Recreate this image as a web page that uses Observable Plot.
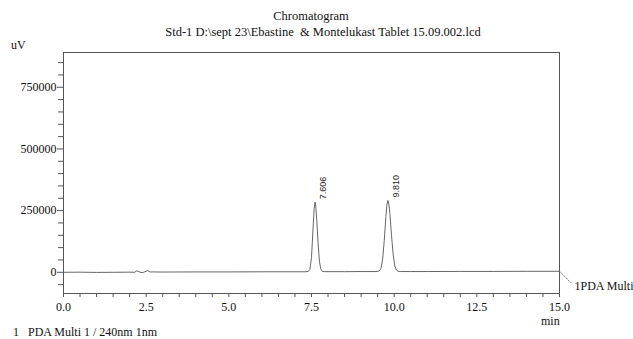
<!DOCTYPE html>
<html>
<head>
<meta charset="utf-8">
<script src="https://cdn.jsdelivr.net/npm/d3@7"></script>
<script src="https://cdn.jsdelivr.net/npm/@observablehq/plot@0.6"></script>
<style>
  html, body { margin: 0; padding: 0; background: #ffffff; }
  #wrap { position: relative; width: 633px; height: 339px; font-family: "Liberation Serif", serif; color: #111; }
  #wrap svg { position: absolute; left: 0; top: 0; }
  .t { position: absolute; white-space: pre; font-size: 12px; line-height: 1; }
</style>
</head>
<body>
<div id="wrap">
  <div class="t" id="title" style="left:311px; top:10px; transform:translateX(-50%); font-size:12.5px;">Chromatogram</div>
  <div class="t" id="subtitle" style="left:323px; top:26px; transform:translateX(-50%); font-size:12.5px;">Std-1 D:\sept 23\Ebastine  &amp; Montelukast Tablet 15.09.002.lcd</div>
  <div class="t" id="ylab" style="left:11px; top:39px;">uV</div>
  <div class="t" id="xlab" style="left:541px; top:315px;">min</div>
  <div class="t" id="footer" style="left:13px; top:326px;">1   PDA Multi 1 / 240nm 1nm</div>
</div>
<script>
// ---- data ----
const times = [
  0.0, 0.5, 1.0, 1.5, 2.0, 2.15, 2.22, 2.30, 2.38, 2.45, 2.55, 2.62, 2.70, 3.0, 4.0, 5.0, 6.0, 7.0, 7.30,
  7.40, 7.45, 7.50, 7.55, 7.58, 7.606, 7.63, 7.66, 7.70, 7.74, 7.78, 7.82, 7.90,
  8.5, 9.0, 9.45, 9.55, 9.60, 9.65, 9.70, 9.75, 9.78, 9.81, 9.84, 9.87, 9.92, 9.97, 10.02, 10.07, 10.12, 10.20,
  10.5, 11.0, 12.0, 13.0, 14.0, 15.0
];
const signal = [
  0, 500, -500, 0, 500, 0, 6000, 1000, -1500, 1500, 7000, 1000, 1500, 1000, 1500, 1500, 2000, 2000, 2000,
  3500, 11000, 60000, 184000, 258000, 284000, 268000, 211000, 116000, 45000, 14000, 4500, 2500,
  2500, 3000, 3000, 5000, 15500, 51000, 128000, 226000, 273000, 291000, 277000, 239000, 149000, 71000, 26000, 9000, 4000, 3000,
  3000, 3000, 3500, 3500, 4000, 4000
];
const peakTimes = [7.606, 9.810];
const peakHeights = [284000, 291000];
const peakLabels = ["7.606", "9.810"];
const xMajorTicks = [0, 2.5, 5, 7.5, 10, 12.5, 15];
const xMinorTicks = [0.5,1,1.5,2,3,3.5,4,4.5,5.5,6,6.5,7,8,8.5,9,9.5,10.5,11,11.5,12,13,13.5,14,14.5];
const yMajorTicks = [0, 250000, 500000, 750000];
const yMinorTicks = [-50000, 50000, 100000, 150000, 200000, 300000, 350000, 400000, 450000, 550000, 600000, 650000, 700000, 800000, 850000];
const channelLabel = "1PDA Multi";

const data = times.map((t, i) => ({t, v: signal[i]}));
const peaks = peakTimes.map((t, i) => ({t, v: peakHeights[i], label: peakLabels[i]}));
const endPoint = [{t: times[times.length - 1], v: signal[signal.length - 1], label: channelLabel}];

const leader = {
  draw(context, l) { context.moveTo(0, 0); context.lineTo(0, -l); }
};

const chart = Plot.plot({
  width: 633,
  height: 339,
  marginLeft: 63,
  marginRight: 74,
  marginTop: 52,
  marginBottom: 46,
  x: {domain: [0, 15]},
  y: {domain: [-86000, 891000]},
  style: {fontFamily: "Liberation Serif", fontSize: "12px", background: "transparent", color: "#111"},
  marks: [
    Plot.frame({stroke: "#555", strokeWidth: 1}),
    Plot.axisX({ticks: xMajorTicks, tickSize: 4, tickPadding: 5, tickFormat: d => d.toFixed(1), label: null, stroke: "#555"}),
    Plot.axisX({ticks: xMinorTicks, tickSize: 4, tickFormat: () => "", label: null, stroke: "#555"}),
    Plot.axisY({ticks: yMajorTicks, tickSize: 6, tickPadding: 1, tickFormat: d => String(d), label: null, stroke: "#555"}),
    Plot.axisY({ticks: yMinorTicks, tickSize: 5, tickFormat: () => "", label: null, stroke: "#555"}),
    Plot.line(data, {x: "t", y: "v", stroke: "#555", strokeWidth: 0.9}),
    Plot.text(peaks, {x: "t", y: "v", text: "label", rotate: -90, textAnchor: "start", dx: 8, dy: -3,
      fontFamily: "Liberation Sans", fontSize: 9, fill: "#222"}),
    Plot.vector(endPoint, {x: "t", y: "v", length: 16, rotate: 135, anchor: "start", shape: leader,
      stroke: "#666", strokeWidth: 0.8, strokeDasharray: "1.5,1.5"}),
    Plot.text(endPoint, {x: "t", y: "v", text: "label", textAnchor: "start", dx: 15, dy: 15, fontSize: 12, fill: "#111"})
  ]
});
document.getElementById("wrap").appendChild(chart);
</script>
</body>
</html>
